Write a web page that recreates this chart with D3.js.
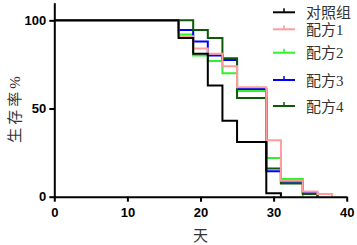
<!DOCTYPE html>
<html>
<head>
<meta charset="utf-8">
<script src="https://cdn.jsdelivr.net/npm/d3@7"></script>
<style>
  body { margin: 0; background: #fff; }
  .axis text { font-family: "Liberation Sans", Arial, sans-serif; font-weight: bold; font-size: 13px; fill: #000; }
  .axis path, .axis line { stroke: #000; stroke-width: 2px; }
  .lbl { font-family: "Liberation Serif", "Noto Sans CJK SC", serif; fill: #333; }
</style>
</head>
<body>
<div id="chart"></div>
<script>
/***** data *****/
var xTicks = [0, 10, 20, 30, 40];
var yTicks = [0, 50, 100];
var groupNames = ["对照组", "配方1", "配方2", "配方3", "配方4"];
var groupColors = ["#000000", "#ff9c9c", "#2df22d", "#0000ff", "#0a5a0a"];
var days0 = [0, 17, 19, 21, 23, 25, 29, 31];
var surv0 = [100, 90, 81, 63, 43, 31, 2, 0];
var days1 = [0, 17, 19, 21, 23, 25, 29, 31, 34, 36, 38];
var surv1 = [100, 91, 84, 81, 74, 62, 32, 9, 3, 1.5, 0];
var days2 = [0, 17, 19, 21, 23, 25, 29, 31, 34];
var surv2 = [100, 92, 80, 77, 70, 60, 22, 10, 0];
var days3 = [0, 17, 19, 21, 23, 25, 29, 31, 34, 36];
var surv3 = [100, 94.5, 88, 80, 77.5, 61, 14.5, 8.5, 2, 0];
var days4 = [0, 19, 21, 23, 25, 29, 31, 34, 36];
var surv4 = [100, 94.5, 90, 78.5, 56, 16, 7.5, 1.5, 0];

var allDays = [days0, days1, days2, days3, days4];
var allSurv = [surv0, surv1, surv2, surv3, surv4];
// pink and black sit on top in the original
var drawOrder = [2, 3, 4, 1, 0];

var svg = d3.select("#chart").append("svg")
  .attr("width", 357)
  .attr("height", 245);

var x = d3.scaleLinear().domain([0, 40]).range([54.3, 346.7]);
var y = d3.scaleLinear().domain([0, 110]).range([196.7, 2.7]);

// curves
var line = d3.line()
  .x(function(d) { return x(d[0]); })
  .y(function(d) { return y(d[1]); })
  .curve(d3.curveStepAfter);

drawOrder.forEach(function(i) {
  var pts = allDays[i].map(function(t, j) { return [t, allSurv[i][j]]; });
  svg.append("path")
    .datum(pts)
    .attr("fill", "none")
    .attr("stroke", groupColors[i])
    .attr("stroke-width", 2)
    .attr("d", line);
});

// axes
svg.append("g")
  .attr("class", "axis")
  .attr("transform", "translate(0," + y(0) + ")")
  .call(d3.axisBottom(x).tickValues(xTicks).tickSize(5).tickSizeOuter(0).tickPadding(6));

svg.append("g")
  .attr("class", "axis")
  .attr("transform", "translate(" + x(0) + ",0)")
  .call(d3.axisLeft(y).tickValues(yTicks).tickSize(5).tickSizeOuter(0).tickPadding(3));

// axis titles
svg.append("text")
  .attr("class", "lbl")
  .attr("x", 200.5)
  .attr("y", 241)
  .attr("text-anchor", "middle")
  .attr("font-size", 15)
  .text("天");

svg.append("text")
  .attr("class", "lbl")
  .attr("transform", "translate(20,108) rotate(-90)")
  .attr("text-anchor", "middle")
  .attr("font-size", 15)
  .attr("letter-spacing", 3)
  .text("生存率%");

// legend
var legendY = [12.3, 29.3, 52.7, 80, 106];
var legend = svg.append("g");
groupNames.forEach(function(name, i) {
  var g = legend.append("g").attr("transform", "translate(0," + legendY[i] + ")");
  g.append("line").attr("x1", 273).attr("x2", 295).attr("y1", 0).attr("y2", 0)
    .attr("stroke", groupColors[i]).attr("stroke-width", 2);
  g.append("line").attr("x1", 284).attr("x2", 284).attr("y1", -4).attr("y2", 0)
    .attr("stroke", groupColors[i]).attr("stroke-width", 1.5);
  g.append("text")
    .attr("class", "lbl")
    .attr("x", 306)
    .attr("y", 5.5)
    .attr("font-size", 15)
    .text(name);
});
</script>
</body>
</html>
